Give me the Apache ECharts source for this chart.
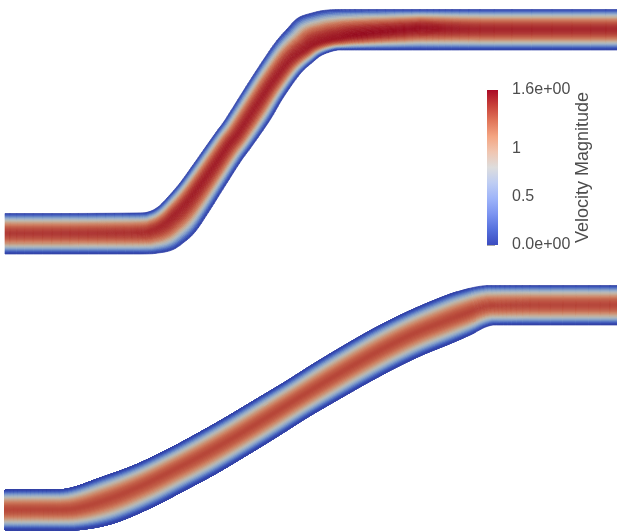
<!DOCTYPE html>
<html>
<head>
<meta charset="utf-8">
<style>html,body{margin:0;padding:0;background:#fff}#c{width:617px;height:532px;filter:blur(0.45px)}</style>
<script src="https://cdn.jsdelivr.net/npm/echarts@6/dist/echarts.min.js"></script>
</head>
<body>
<div id="c"></div>
<script>
// Upper duct: cross-sections (upper wall point, lower wall point)
const upperTopX = [5,70,135,148,158,168,180,193,207,217,225,242,258,275,288,298,312,328,355,420,480,617];
const upperTopY = [213.5,213.5,213,212,207,197,183,165,145,131,120,93,68,43,28,18,13,10,9.5,9.5,9.5,9.5];
const upperBotX = [5,70,140,158,172,183,195,208,225,241,252,270,283,300,314,322,335,345,365,420,480,617];
const upperBotY = [254,254,254,253,250,243,232,213,186,161,146,120,98,74,61,55,50.5,50,50,50,50,50];
const upperPeak = [1.41,1.42,1.44,1.46,1.48,1.5,1.51,1.52,1.52,1.52,1.52,1.52,1.52,1.52,1.53,1.54,1.55,1.56,1.6,1.58,1.5,1.48];
const upperRidge = [.5,.5,.49,.45,.41,.4,.41,.44,.47,.48,.5,.5,.53,.58,.66,.7,.72,.7,.62,.47,.5,.5];
// Lower duct
const lowerTopX = [5,35,67,100,133,165,195,225,255,285,315,345,375,405,435,460,487,530,617];
const lowerTopY = [490,490,489,478,466,451,435,418,400,382,363,345,328,313,300,291,285.5,285.5,285.5];
const lowerBotX = [5,35,75,112,150,184,215,247,278,308,338,367,395,422,449,470,493,530,617];
const lowerBotY = [530,530,530,523.5,508,490.5,474,455,436,417,399.5,383,368,355,344,335,325,325,325];
const lowerPeak = [1.33,1.34,1.34,1.34,1.34,1.34,1.34,1.34,1.34,1.34,1.34,1.34,1.34,1.34,1.34,1.35,1.35,1.36,1.36];
const lowerRidge = [.5,.5,.5,.49,.48,.48,.49,.5,.5,.5,.5,.5,.5,.5,.51,.52,.52,.5,.5];
// Speed across a section, as a share of the section's peak, wall to wall
const laneProfile = [.02,.1,.19,.28,.36,.44,.51,.58,.64,.7,.75,.79,.83,.87,.9,.93,.95,.97,.985,.995,
                     .995,.985,.97,.95,.93,.9,.87,.83,.79,.75,.7,.64,.58,.51,.44,.36,.28,.19,.1,.02];
// Colour stops (share of range, colour): colour bar, and the shaded colours seen in the ducts
const mapStops = [0,.1,.2,.3,.4,.5,.6,.7,.8,.9,1];
const barColors = [[59,76,192],[85,112,221],[124,148,241],[158,180,249],[190,205,243],[221,221,221],[240,198,177],[244,165,130],[225,118,90],[200,65,58],[170,10,38]];
const ductColors = [[50,65,165],[60,85,185],[85,115,195],[120,150,200],[155,175,200],[185,185,180],[200,165,140],[205,125,95],[190,85,65],[170,45,45],[150,10,30]];
// Colour bar
const speedMax = 1.6;
const tickValues = [0,0.5,1,1.6];
const tickLabels = ['0.0e+00','0.5','1','1.6e+00'];
const barTitle = 'Velocity Magnitude';

const STEPS = 8;
function colorOf(v){
  const t = Math.max(0,Math.min(1,v/speedMax));
  let i = 0;
  while(i < mapStops.length-2 && t > mapStops[i+1]) i++;
  const k = (t-mapStops[i])/(mapStops[i+1]-mapStops[i]);
  const c = ductColors[i].map((a,n)=>Math.round(a+(ductColors[i+1][n]-a)*k));
  return 'rgb('+c.join(',')+')';
}
function smooth(a,u){
  const i = Math.min(Math.floor(u),a.length-2), f = u-i;
  const p0=a[Math.max(i-1,0)],p1=a[i],p2=a[i+1],p3=a[Math.min(i+2,a.length-1)];
  const v = p1+0.5*f*((p2-p0)+f*((2*p0-5*p1+4*p2-p3)+f*(3*(p1-p2)+p3-p0)));
  return Math.max(Math.min(p1,p2),Math.min(Math.max(p1,p2),v));
}
function lerp(a,u){const i=Math.min(Math.floor(u),a.length-2),f=u-i;return a[i]+(a[i+1]-a[i])*f;}
function ductSeries(tx,ty,bx,by,peak,ridge){
  const data=[];
  for(let s=0;s<(tx.length-1)*STEPS;s++) for(let l=0;l<laneProfile.length;l++) data.push([s,l]);
  const pos=(u,f)=>{
    const r=lerp(ridge,u);
    const q=f<.5? f*2*r : r+(f-.5)*2*(1-r);
    return [smooth(tx,u)*(1-q)+smooth(bx,u)*q, smooth(ty,u)*(1-q)+smooth(by,u)*q];
  };
  return {
    type:'custom',coordinateSystem:'cartesian2d',xAxisIndex:0,yAxisIndex:0,animation:false,silent:true,
    data,clip:true,
    renderItem(p,api){
      const s=api.value(0),l=api.value(1),n=laneProfile.length;
      const u0=s/STEPS,u1=(s+1)/STEPS,f0=l/n,f1=(l+1)/n;
      const pts=[pos(u0,f0),pos(u1,f0),pos(u1,f1),pos(u0,f1)].map(q=>api.coord(q));
      const col=colorOf(laneProfile[l]*lerp(peak,(u0+u1)/2));
      return {type:'polygon',shape:{points:pts},style:{fill:col,stroke:col,lineWidth:0.7}};
    }
  };
}
const gradStops = mapStops.map((o,i)=>({offset:1-o,color:'rgb('+barColors[i].join(',')+')'})).reverse();
const chart = echarts.init(document.getElementById('c'),null,{renderer:'canvas'});
const textColor='#4d4d4d';
chart.setOption({
  animation:false,
  backgroundColor:'#fff',
  grid:[{left:0,right:0,top:0,bottom:0},{left:487,width:11,top:90,height:155}],
  xAxis:[{type:'value',min:0,max:617,show:false,gridIndex:0},{type:'value',min:0,max:1,show:false,gridIndex:1}],
  yAxis:[
    {type:'value',min:0,max:532,inverse:true,show:false,gridIndex:0},
    {type:'value',min:0,max:speedMax,gridIndex:1,position:'right',
     splitLine:{show:false},axisLine:{show:false},
     axisTick:{show:true,length:8,customValues:tickValues,lineStyle:{color:'#aaaaaa',width:1}},
     axisLabel:{show:true,margin:14,customValues:tickValues,color:textColor,fontFamily:'Liberation Sans',fontSize:16,
       formatter:v=>tickLabels[tickValues.indexOf(v)]},
     name:barTitle,nameLocation:'middle',nameRotate:90,nameGap:76,
     nameTextStyle:{color:textColor,fontFamily:'Liberation Sans',fontSize:18}}
  ],
  series:[
    ductSeries(upperTopX,upperTopY,upperBotX,upperBotY,upperPeak,upperRidge),
    ductSeries(lowerTopX,lowerTopY,lowerBotX,lowerBotY,lowerPeak,lowerRidge),
    {type:'custom',coordinateSystem:'cartesian2d',xAxisIndex:1,yAxisIndex:1,animation:false,silent:true,
     data:[[0,speedMax]],
     renderItem(p,api){
       const a=api.coord([0,api.value(1)]),b=api.coord([1,api.value(0)]);
       return {type:'rect',shape:{x:a[0],y:a[1],width:b[0]-a[0],height:b[1]-a[1]},
         style:{fill:new echarts.graphic.LinearGradient(0,0,0,1,gradStops)}};
     }}
  ]
});
</script>
</body>
</html>
